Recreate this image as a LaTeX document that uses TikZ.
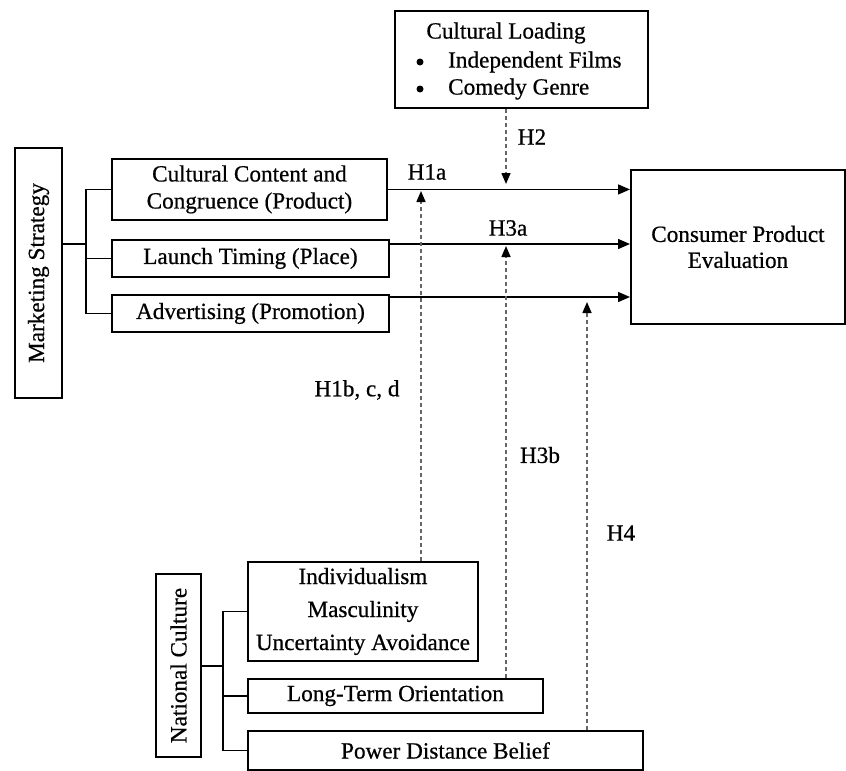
\documentclass[tikz,border=0pt]{standalone}
\usepackage{fontspec}
\setmainfont{Liberation Serif}[FakeBold=0.6]
\usetikzlibrary{arrows.meta}
\begin{document}
\begin{tikzpicture}[x=1pt,y=-1pt,
  every node/.style={font=\fontsize{23.2}{27}\selectfont, inner sep=0pt},
  box/.style={draw, line width=1.9pt, anchor=north west, align=center},
  tree/.style={line width=1.9pt},
  bul/.style={circle, fill=black, minimum size=7pt},
  arr/.style={line width=1.4pt, -{Triangle[length=12pt,width=10pt]}},
  dasharr/.style={line width=1.5pt, draw=black!60, dash pattern=on 4pt off 3pt,
    -{Triangle[length=11pt,width=9pt,color=black,fill=black]}},
  lbl/.style={}]
\useasboundingbox (0,0) rectangle (846,771);
\fill[white] (0,0) rectangle (846,771);

% Boxes
\node[box, minimum width=253, minimum height=97] (load) at (394,10) {};
\node (loadt) at (506,33) {Cultural Loading};
\node[bul] (b1) at (420,62) {};
\node[bul] (b2) at (420,89) {};
\node[anchor=west] (t1) at (448,62) {Independent Films};
\node[anchor=west] (t2) at (448,89) {Comedy Genre};

\node[box, minimum width=275, minimum height=61] (cce) at (111,158) {Cultural Content and\\Congruence (Product)};
\node[box, minimum width=277, minimum height=37] (lt) at (111,239) {Launch Timing (Place)};
\node[box, minimum width=277, minimum height=37] (adv) at (111,294) {Advertising (Promotion)};
\node[box, anchor=center, rotate=90, minimum width=250, minimum height=47] (ms) at (38.5,273) {Marketing Strategy};

\node[box, minimum width=214, minimum height=154, font=\fontsize{23.2}{26}\selectfont] (cpe) at (630,169) {Consumer Product\\Evaluation};

\node[box, anchor=center, rotate=90, minimum width=183, minimum height=45] (nc) at (178.5,665.5) {National Culture};
\node[box, minimum width=230, minimum height=99, font=\fontsize{23.2}{33}\selectfont] (ind) at (247,561) {Individualism\\Masculinity\\Uncertainty Avoidance};
\node[box, minimum width=295, minimum height=34] (lto) at (247,678) {Long-Term Orientation};
\node[box, minimum width=395, minimum height=39] (pdb) at (247,730) {Power Distance Belief};

% Tree connectors
\coordinate (msv) at (86,244);
\draw[tree] (ms.south |- msv) -- (msv);
\draw[tree] (cce.west) -| (msv |- adv.west) -- (adv.west);
\draw[tree] (lt.west -| msv) -- (lt.west);

\coordinate (ncv) at (223,666);
\draw[tree] (nc.south |- ncv) -- (ncv);
\draw[tree] (ind.west) -| (ncv |- pdb.west) -- (pdb.west);
\draw[tree] (lto.west -| ncv) -- (lto.west);

% Solid arrows
\coordinate (a1) at (cce.east);
\coordinate (a2) at ([yshift=-5pt]lt.north east);
\coordinate (a3) at ([yshift=-3pt]adv.north east);
\draw[arr] (a1) -- (a1 -| cpe.west);
\draw[arr] (a2) -- (a2 -| cpe.west);
\draw[arr] (a3) -- (a3 -| cpe.west);

% Dashed arrows
\coordinate (h2) at (506,184);
\coordinate (h1) at (421,191);
\coordinate (h3) at (506,246);
\coordinate (h4) at (587,302);
\draw[dasharr] (h2 |- load.south) -- (h2);
\draw[dasharr] (h1 |- ind.north) -- (h1);
\draw[dasharr] (h3 |- lto.north) -- (h3);
\draw[dasharr] (h4 |- pdb.north) -- (h4);

% Labels
\node[lbl] (l1a) at (427,172) {H1a};
\node[lbl] (l2) at (532,137) {H2};
\node[lbl] (l3a) at (508,228) {H3a};
\node[lbl] (l1b) at (357,390) {H1b, c, d};
\node[lbl] (l3b) at (540,455) {H3b};
\node[lbl] (l4) at (621,533) {H4};
\end{tikzpicture}
\end{document}
